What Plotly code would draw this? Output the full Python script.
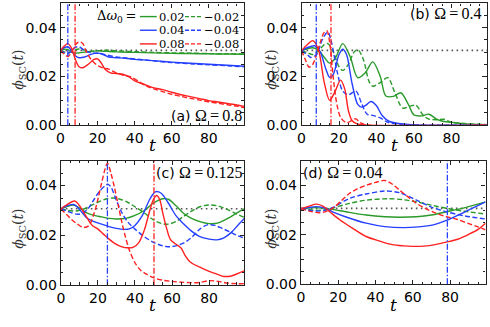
import math
import plotly.graph_objects as go

# ---------------- data ----------------
OMEGAS = [0.8, 0.4, 0.125, 0.04]
PANEL_TAGS = ["(a)", "(b)", "(c)", "(d)"]
DW_LABELS = ["0.02", "\u22120.02", "0.04", "\u22120.04", "0.08", "\u22120.08"]
PHI0 = 0.0307
T_END = 99

# panel (a)  Omega = 0.8
A_T_G = [0, 2, 4, 6, 8, 10, 13, 16, 20, 25, 30, 40, 50, 60, 70, 80, 90, 99]
A_P_G = [0.0306, 0.0312, 0.0310, 0.0300, 0.0296, 0.0297, 0.0300, 0.0303, 0.0305, 0.0303, 0.0301, 0.0299, 0.0297, 0.0295, 0.0294, 0.0293, 0.0292, 0.0291]
A_T_GD = [0, 2, 4, 6, 8, 10, 13, 16, 20, 25, 30, 40, 50, 60, 70, 80, 90, 99]
A_P_GD = [0.0306, 0.0301, 0.0298, 0.0302, 0.0310, 0.0313, 0.0308, 0.0302, 0.0306, 0.0308, 0.0305, 0.0302, 0.0299, 0.0297, 0.0296, 0.0294, 0.0293, 0.0292]
A_T_B = [0, 2, 4, 6, 8, 10, 13, 16, 20, 23, 26, 30, 35, 40, 45, 50, 60, 70, 80, 90, 99]
A_P_B = [0.0306, 0.0318, 0.0322, 0.0305, 0.0285, 0.0277, 0.0280, 0.0290, 0.0296, 0.0290, 0.0280, 0.0277, 0.0275, 0.0270, 0.0268, 0.0265, 0.0259, 0.0254, 0.0250, 0.0246, 0.0242]
A_T_BD = [0, 2, 4, 6, 8, 10, 12, 15, 18, 21, 25, 30, 35, 40, 50, 60, 70, 80, 90, 99]
A_P_BD = [0.0306, 0.0298, 0.0293, 0.0305, 0.0320, 0.0322, 0.0312, 0.0300, 0.0296, 0.0295, 0.0288, 0.0280, 0.0276, 0.0272, 0.0264, 0.0257, 0.0252, 0.0248, 0.0244, 0.0240]
A_T_R = [0, 2, 4, 6, 8, 10, 12, 15, 18, 20, 22, 24, 27, 30, 34, 37, 40, 45, 50, 55, 60, 65, 70, 75, 80, 85, 90, 95, 99]
A_P_R = [0.0306, 0.0325, 0.0335, 0.0315, 0.0270, 0.0240, 0.0236, 0.0250, 0.0270, 0.0272, 0.0255, 0.0230, 0.0215, 0.0212, 0.0208, 0.0198, 0.0182, 0.0168, 0.0154, 0.0146, 0.0135, 0.0125, 0.0117, 0.0109, 0.0101, 0.0095, 0.0089, 0.0083, 0.0077]
A_T_RD = [0, 2, 4, 6, 8, 10, 12, 14, 17, 20, 23, 26, 30, 34, 38, 42, 46, 50, 55, 60, 65, 70, 75, 80, 85, 90, 95, 99]
A_P_RD = [0.0306, 0.0292, 0.0282, 0.0300, 0.0330, 0.0342, 0.0335, 0.0300, 0.0265, 0.0245, 0.0235, 0.0230, 0.0215, 0.0205, 0.0198, 0.0180, 0.0162, 0.0150, 0.0138, 0.0127, 0.0118, 0.0110, 0.0103, 0.0096, 0.0090, 0.0084, 0.0078, 0.0072]

# panel (b)  Omega = 0.4
B_T_G = [0, 3, 6, 9, 12, 15, 18, 22, 26, 30, 34, 38, 42, 45, 49, 53, 57, 60, 64, 68, 72, 76, 80, 85, 90, 99]
B_P_G = [0.0306, 0.0314, 0.0318, 0.0308, 0.0280, 0.0255, 0.0275, 0.0335, 0.0280, 0.0195, 0.0215, 0.0260, 0.0200, 0.0120, 0.0118, 0.0133, 0.0085, 0.0042, 0.0038, 0.0045, 0.0025, 0.0015, 0.0012, 0.0007, 0.0004, 0.0002]
B_T_GD = [0, 3, 6, 9, 12, 14, 17, 20, 22, 25, 28, 30, 33, 36, 38, 42, 46, 50, 54, 58, 61, 65, 68, 72, 76, 80, 85, 90, 99]
B_P_GD = [0.0306, 0.0298, 0.0290, 0.0305, 0.0330, 0.0335, 0.0300, 0.0240, 0.0225, 0.0250, 0.0300, 0.0310, 0.0270, 0.0180, 0.0160, 0.0175, 0.0195, 0.0130, 0.0070, 0.0078, 0.0082, 0.0040, 0.0025, 0.0022, 0.0024, 0.0012, 0.0008, 0.0005, 0.0002]
B_T_B = [0, 3, 7, 10, 13, 15, 17, 20, 22, 24, 27, 30, 32, 34, 37, 40, 43, 47, 52, 57, 62, 70, 99]
B_P_B = [0.0306, 0.0318, 0.0326, 0.0300, 0.0230, 0.0196, 0.0210, 0.0290, 0.0312, 0.0290, 0.0170, 0.0085, 0.0074, 0.0080, 0.0097, 0.0080, 0.0040, 0.0015, 0.0007, 0.0003, 0.0001, 0.0, 0.0]
B_T_BD = [0, 3, 5, 8, 11, 14, 16, 19, 22, 25, 29, 32, 35, 38, 42, 46, 52, 60, 99]
B_P_BD = [0.0306, 0.0290, 0.0278, 0.0290, 0.0350, 0.0382, 0.0340, 0.0220, 0.0140, 0.0125, 0.0140, 0.0090, 0.0045, 0.0040, 0.0030, 0.0012, 0.0004, 0.0001, 0.0]
B_T_R = [0, 3, 6, 9, 12, 15, 18, 20.8, 23, 25, 27, 30, 35, 99]
B_P_R = [0.0306, 0.0330, 0.0347, 0.0310, 0.0180, 0.0102, 0.0140, 0.0185, 0.0150, 0.0060, 0.0018, 0.0004, 0.0, 0.0]
B_T_RD = [0, 2, 4, 6, 8, 10, 12, 13.5, 15, 17, 19, 21, 24, 27, 29, 31, 34, 99]
B_P_RD = [0.0306, 0.0270, 0.0238, 0.0250, 0.0290, 0.0340, 0.0380, 0.0388, 0.0340, 0.0190, 0.0080, 0.0030, 0.0010, 0.0020, 0.0026, 0.0012, 0.0002, 0.0]

# panel (c)  Omega = 0.125
C_T_G = [0, 3, 7, 10, 14, 18, 22, 26, 30, 35, 40, 45, 50, 55, 58, 62, 66, 70, 75, 80, 85, 90, 95, 99]
C_P_G = [0.0306, 0.0315, 0.0322, 0.0310, 0.0290, 0.0280, 0.0274, 0.0268, 0.0266, 0.0268, 0.0280, 0.0300, 0.0330, 0.0347, 0.0345, 0.0320, 0.0290, 0.0270, 0.0255, 0.0247, 0.0250, 0.0268, 0.0290, 0.0306]
C_T_GD = [0, 4, 8, 12, 16, 20, 24, 28, 32, 36, 40, 45, 50, 54, 58, 62, 66, 70, 75, 80, 85, 90, 95, 99]
C_P_GD = [0.0306, 0.0300, 0.0298, 0.0305, 0.0318, 0.0333, 0.0345, 0.0350, 0.0345, 0.0333, 0.0315, 0.0290, 0.0262, 0.0248, 0.0245, 0.0255, 0.0275, 0.0295, 0.0315, 0.0322, 0.0318, 0.0303, 0.0285, 0.0272]
C_T_B = [0, 3, 7, 10, 14, 18, 22, 26, 30, 34, 37, 40, 44, 48, 51, 54, 58, 62, 66, 70, 75, 80, 84, 88, 92, 96, 99]
C_P_B = [0.0306, 0.0318, 0.0324, 0.0305, 0.0270, 0.0255, 0.0245, 0.0235, 0.0228, 0.0224, 0.0226, 0.0240, 0.0280, 0.0345, 0.0375, 0.0370, 0.0330, 0.0280, 0.0248, 0.0220, 0.0195, 0.0185, 0.0182, 0.0190, 0.0212, 0.0245, 0.0268]
C_T_BD = [0, 3, 6, 9, 12, 15, 18, 21, 24, 25.5, 27, 30, 33, 36, 40, 45, 50, 55, 59, 63, 67, 71, 75, 79, 83, 87, 91, 95, 99]
C_P_BD = [0.0306, 0.0298, 0.0290, 0.0285, 0.0290, 0.0310, 0.0345, 0.0378, 0.0400, 0.0405, 0.0395, 0.0340, 0.0290, 0.0255, 0.0225, 0.0195, 0.0172, 0.0158, 0.0154, 0.0160, 0.0172, 0.0195, 0.0225, 0.0242, 0.0240, 0.0228, 0.0215, 0.0200, 0.0189]
C_T_R = [0, 3, 7.5, 10, 14, 17, 20, 23, 26, 29, 33, 36, 39, 42, 45, 48, 50, 51.8, 53.5, 55, 57, 59, 61, 63, 65, 67, 70, 75, 80, 85, 88, 92, 96, 99]
C_P_R = [0.0306, 0.0322, 0.0338, 0.0320, 0.0272, 0.0240, 0.0225, 0.0205, 0.0185, 0.0168, 0.0154, 0.0150, 0.0152, 0.0170, 0.0220, 0.0300, 0.0345, 0.0360, 0.0340, 0.0290, 0.0230, 0.0185, 0.0170, 0.0160, 0.0148, 0.0120, 0.0092, 0.0072, 0.0055, 0.0042, 0.0035, 0.0037, 0.0048, 0.0057]
C_T_RD = [0, 3, 6, 9, 12, 15, 18, 20, 22, 24, 25.2, 27, 29, 31, 33, 35, 37, 40, 43, 46, 50, 55, 60, 65, 70, 75, 80, 85, 90, 95, 99]
C_P_RD = [0.0306, 0.0285, 0.0262, 0.0245, 0.0232, 0.0238, 0.0290, 0.0345, 0.0410, 0.0470, 0.0490, 0.0450, 0.0390, 0.0320, 0.0250, 0.0190, 0.0140, 0.0090, 0.0060, 0.0045, 0.0030, 0.0020, 0.0015, 0.0012, 0.0010, 0.0011, 0.0018, 0.0015, 0.0008, 0.0006, 0.0006]

# panel (d)  Omega = 0.04
D_T_G = [0, 4, 8, 12, 17, 25, 35, 45, 53, 62, 70, 78, 88, 99]
D_P_G = [0.0306, 0.0308, 0.0310, 0.0308, 0.0303, 0.0292, 0.0280, 0.0273, 0.0271, 0.0273, 0.0280, 0.0293, 0.0310, 0.0333]
D_T_GD = [0, 4, 8, 12, 17, 26, 35, 47, 55, 62, 70, 78, 88, 99]
D_P_GD = [0.0306, 0.0302, 0.0299, 0.0300, 0.0308, 0.0327, 0.0340, 0.0346, 0.0342, 0.0333, 0.0320, 0.0307, 0.0295, 0.0284]
D_T_B = [0, 4, 8, 12, 17, 25, 35, 45, 55, 63, 71, 78, 88, 99]
D_P_B = [0.0306, 0.0310, 0.0314, 0.0310, 0.0293, 0.0270, 0.0247, 0.0233, 0.0229, 0.0232, 0.0240, 0.0258, 0.0293, 0.0333]
D_T_BD = [0, 4, 8, 12, 17, 26, 35, 45, 53, 62, 70, 78, 88, 99]
D_P_BD = [0.0306, 0.0300, 0.0296, 0.0298, 0.0310, 0.0347, 0.0365, 0.0377, 0.0370, 0.0340, 0.0312, 0.0293, 0.0276, 0.0264]
D_T_R = [0, 4, 8.5, 12, 16, 21, 28, 35, 42, 49, 55, 60, 66, 72, 78, 84, 90, 95, 99]
D_P_R = [0.0306, 0.0315, 0.0324, 0.0315, 0.0290, 0.0260, 0.0225, 0.0193, 0.0175, 0.0160, 0.0155, 0.0153, 0.0154, 0.0160, 0.0170, 0.0182, 0.0202, 0.0222, 0.0247]
D_T_RD = [0, 5, 10, 14, 18, 22, 26, 30, 35, 40, 45, 49, 53, 58, 62, 66, 71, 78, 84, 90, 95, 99]
D_P_RD = [0.0306, 0.0295, 0.0289, 0.0296, 0.0313, 0.0340, 0.0367, 0.0385, 0.0400, 0.0412, 0.0420, 0.0405, 0.0380, 0.0350, 0.0327, 0.0310, 0.0292, 0.0273, 0.0262, 0.0245, 0.0232, 0.0220]

PANEL_CURVES = [
    [(A_T_G, A_P_G), (A_T_GD, A_P_GD), (A_T_B, A_P_B), (A_T_BD, A_P_BD), (A_T_R, A_P_R), (A_T_RD, A_P_RD)],
    [(B_T_G, B_P_G), (B_T_GD, B_P_GD), (B_T_B, B_P_B), (B_T_BD, B_P_BD), (B_T_R, B_P_R), (B_T_RD, B_P_RD)],
    [(C_T_G, C_P_G), (C_T_GD, C_P_GD), (C_T_B, C_P_B), (C_T_BD, C_P_BD), (C_T_R, C_P_R), (C_T_RD, C_P_RD)],
    [(D_T_G, D_P_G), (D_T_GD, D_P_GD), (D_T_B, D_P_B), (D_T_BD, D_P_BD), (D_T_R, D_P_R), (D_T_RD, D_P_RD)],
]

# ---------------- style ----------------
GREEN, BLUE, RED = "#2a9a2a", "#2540ff", "#ff2020"
CURVE_COLORS = [GREEN, GREEN, BLUE, BLUE, RED, RED]
CURVE_DASH = ["solid", "5px,2.5px"] * 3
W, H = 490, 327

# panel pixel boxes: (left, right, top, bottom)
BOXES = [(57, 242, 3.5, 128.3), (300, 487, 3.5, 128.3), (57.3, 242.3, 164.7, 292.3), (299.3, 485.5, 164.7, 291.3)]

fig = go.Figure()
AX_FONT = dict(family="DejaVu Sans", size=14, color="black")
layout = dict(width=W, height=H, margin=dict(l=0, r=0, t=0, b=0),
              paper_bgcolor="white", plot_bgcolor="white", showlegend=False)

for i, (l, r, t, b) in enumerate(BOXES):
    k = "" if i == 0 else str(i + 1)
    xa, ya = "x" + k, "y" + k
    common = dict(showline=True, linecolor="#222", linewidth=1.3, mirror="allticks",
                  ticks="inside", ticklen=4.5, tickwidth=1, tickcolor="#222",
                  showgrid=False, zeroline=False, tickfont=AX_FONT)
    layout["xaxis" + k] = dict(common, domain=[l / W, r / W], anchor=ya, range=[0, T_END],
                               tickvals=[0, 20, 40, 60, 80],
                               minor=dict(ticks="inside", ticklen=2.5, dtick=5, tick0=0, tickcolor="#222", showgrid=False))
    layout["yaxis" + k] = dict(common, domain=[1 - b / H, 1 - t / H], anchor=xa, range=[0, 0.05],
                               tickvals=[0, 0.02, 0.04], tickformat=".2f",
                               minor=dict(ticks="inside", ticklen=2.5, dtick=0.005, tick0=0, tickcolor="#222", showgrid=False))

    # reference dotted line
    fig.add_trace(go.Scatter(x=[0, T_END], y=[PHI0, PHI0], mode="lines", xaxis=xa, yaxis=ya,
                             line=dict(color="#555", width=1.6, dash="1.6px,3.4px")))
    # curves
    for j, (tt, pp) in enumerate(PANEL_CURVES[i]):
        fig.add_trace(go.Scatter(x=tt, y=pp, mode="lines", xaxis=xa, yaxis=ya,
                                 line=dict(color=CURVE_COLORS[j], width=1.4, dash=CURVE_DASH[j],
                                           shape="spline", smoothing=0.9)))
    # vertical markers at pi/Omega (blue) and 2 pi/Omega (red)
    for mult, col in [(1, BLUE), (2, RED)]:
        tv = mult * math.pi / OMEGAS[i]
        if tv < T_END:
            fig.add_trace(go.Scatter(x=[tv, tv], y=[0, 0.05], mode="lines", xaxis=xa, yaxis=ya,
                                     line=dict(color=col, width=1.3, dash="6px,2px,1.5px,2px")))

fig.update_layout(**layout)

SERIF = "Liberation Serif"
LEG_SERIF = "DejaVu Serif"
ann = []
# y titles
ytitle = "<i>\u03d5</i><sub>SC</sub>(<i>t</i>)"
for (xp, yp) in [(15, 71.7), (270, 71.7), (15, 234.7), (270, 234.7)]:
    ann.append(dict(x=xp / W, y=1 - yp / H, xref="paper", yref="paper", text=ytitle, textangle=-90,
                    showarrow=False, font=dict(family="DejaVu Serif", size=14, color="#333"),
                    xanchor="center", yanchor="middle"))
# x titles
for (xp, yp) in [(149.5, 149), (393.5, 149), (149.8, 313), (392.4, 313)]:
    ann.append(dict(x=xp / W, y=1 - yp / H, xref="paper", yref="paper", text="<i>t</i>",
                    showarrow=False, font=dict(family="DejaVu Serif", size=17, color="black"),
                    xanchor="center", yanchor="middle"))


def plabel(i):
    return ("%s <span style='font-family:%s;font-size:16px'>\u03a9\u2009=\u2009%s</span>"
            % (PANEL_TAGS[i], SERIF, OMEGAS[i]))


PL_FONT = dict(family="DejaVu Sans", size=14, color="black")
ann.append(dict(x=241 / W, y=1 - 118 / H, xref="paper", yref="paper", text=plabel(0), showarrow=False,
                xanchor="right", yanchor="middle", font=PL_FONT, borderpad=0))
ann.append(dict(x=483 / W, y=1 - 13.5 / H, xref="paper", yref="paper", text=plabel(1), showarrow=False,
                xanchor="right", yanchor="middle", font=PL_FONT, borderpad=0))
ann.append(dict(x=241 / W, y=1 - 176.5 / H, xref="paper", yref="paper", text=plabel(2), showarrow=False,
                xanchor="right", yanchor="middle", font=PL_FONT, borderpad=0))
ann.append(dict(x=300.5 / W, y=1 - 176.5 / H, xref="paper", yref="paper", text=plabel(3), showarrow=False,
                xanchor="left", yanchor="middle", font=PL_FONT, borderpad=0))

# manual legend in panel (a)
ann.append(dict(x=134 / W, y=1 - 17 / H, xref="paper", yref="paper",
                text="\u0394<i>\u03c9</i><sub>0</sub>\u2009=", showarrow=False, borderpad=0,
                xanchor="right", yanchor="middle", font=dict(family=LEG_SERIF, size=13, color="black")))
shapes = []
rows_y = [17, 31, 45]
for j, lab in enumerate(DW_LABELS):
    row, colm = j // 2, j % 2
    yy = 1 - rows_y[row] / H
    x0, x1, xt = (137, 154, 155) if colm == 0 else (182.5, 200, 201)
    shapes.append(dict(type="line", xref="paper", yref="paper", x0=x0 / W, x1=x1 / W, y0=yy, y1=yy,
                       line=dict(color=CURVE_COLORS[j], width=1.4, dash="solid" if colm == 0 else "4px,2px")))
    ann.append(dict(x=xt / W, y=yy, xref="paper", yref="paper", text=lab, showarrow=False, borderpad=0,
                    xanchor="left", yanchor="middle", font=dict(family=LEG_SERIF, size=11.5, color="black")))

fig.update_layout(annotations=ann, shapes=shapes)
fig.write_html("out.html", config={"displayModeBar": False},
               post_script="document.body.style.margin='0';document.body.style.padding='0';")
